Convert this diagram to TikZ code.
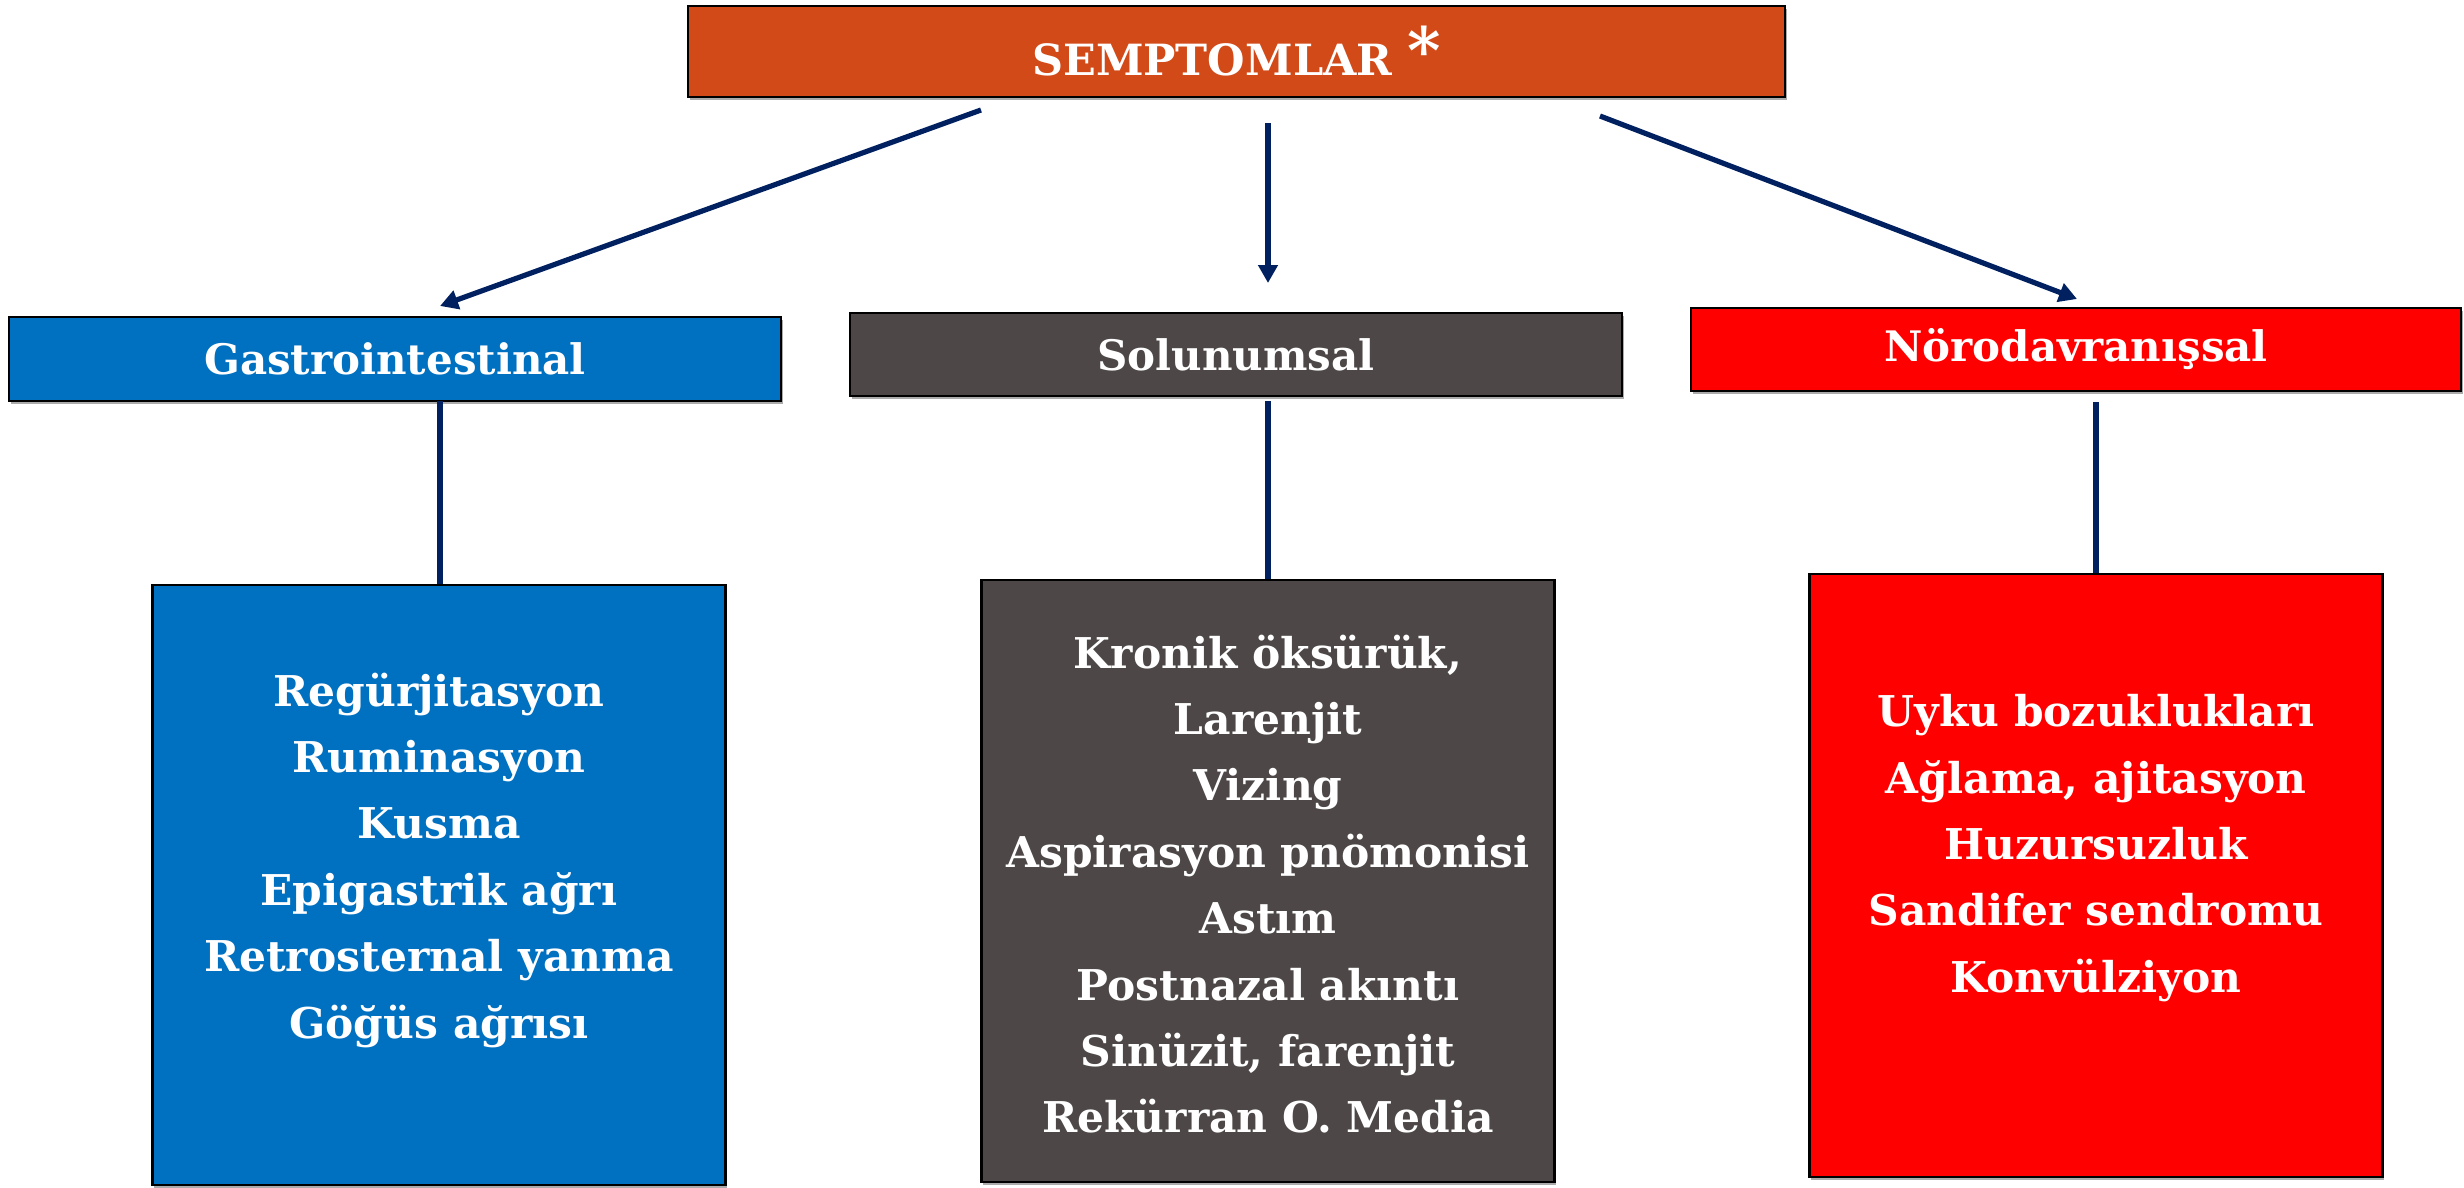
\documentclass[tikz,border=0pt]{standalone}
\usepackage{fontspec}
\setmainfont{DejaVu Serif}
\usetikzlibrary{arrows.meta,shadows}
\definecolor{titlecol}{HTML}{D14A17}
\definecolor{gicol}{HTML}{0070C0}
\definecolor{solcol}{HTML}{4D4747}
\definecolor{nrcol}{HTML}{FF0000}
\definecolor{arrcol}{HTML}{002060}
\tikzset{
  boxbase/.style={draw=black, line width=1.3pt, inner sep=0pt,
    drop shadow={shadow xshift=0.8pt, shadow yshift=-1.5pt, fill=black!55, opacity=0.6}},
  headbox/.style={boxbase, minimum width=386pt, minimum height=42pt,
    text=white, font=\fontsize{21}{24}\selectfont\bfseries},
  contentbox/.style={boxbase, minimum width=286.5pt, minimum height=301pt},
  listtext/.style={text=white, align=center, inner sep=0pt,
    font=\fontsize{21.2}{33.2}\selectfont\bfseries},
  arr/.style={draw=arrcol, line width=2.6pt, -{Triangle[length=9pt,width=9.5pt]}},
  conn/.style={draw=arrcol, line width=2.6pt}
}
\begin{document}
\begin{tikzpicture}[x=0.5pt,y=-0.5pt]
\useasboundingbox (0,0) rectangle (2464,1188);
% title
\node[boxbase, fill=titlecol, minimum width=548.5pt, minimum height=45.5pt,
  text=white, font=\fontsize{21.5}{26}\selectfont\bfseries] (title) at (1236.5,51.5)
  {SEMPTOMLAR \raisebox{1pt}{\fontsize{32}{32}\selectfont *}};
% headers
\node[headbox, fill=gicol] (gih) at (395,359) {Gastrointestinal};
\node[headbox, fill=solcol, minimum height=41.5pt] (soh) at (1236,354.5) {Solunumsal};
\node[headbox, fill=nrcol, minimum width=385pt, minimum height=41.5pt] (nrh) at (2076,349.5) {Nörodavranışsal};
% content boxes
\node[contentbox, fill=gicol, minimum height=300pt] (gic) at (439,885) {};
\node[contentbox, fill=solcol] (soc) at (1268,881) {};
\node[contentbox, fill=nrcol, minimum height=301.5pt] (nrc) at (2096,875.5) {};
% texts
\node[listtext] (git) at (439,860) {Regürjitasyon\\Ruminasyon\\Kusma\\Epigastrik ağrı\\Retrosternal yanma\\Göğüs ağrısı};
\node[listtext] (sot) at (1268,884) {Kronik öksürük,\\Larenjit\\Vizing\\Aspirasyon pnömonisi\\Astım\\Postnazal akıntı\\Sinüzit, farenjit\\Rekürran O. Media};
\node[listtext] (nrt) at (2096,848) {Uyku bozuklukları\\Ağlama, ajitasyon\\Huzursuzluk\\Sandifer sendromu\\Konvülziyon};
% arrow end points
\coordinate (a1s) at (981,110);
\coordinate (a1e) at (440,306);
\coordinate (a2s) at (1268,123);
\coordinate (a2e) at (1268,283);
\coordinate (a3s) at (1600,116);
\coordinate (a3e) at (2077,299);
\draw[arr] (a1s) -- (a1e);
\draw[arr] (a2s) -- (a2e);
\draw[arr] (a3s) -- (a3e);
% vertical connectors
\coordinate (giv) at (440,401);
\coordinate (sov) at (1268,401);
\coordinate (nrv) at (2096,402);
\draw[conn] (giv) -- (gic.north -| giv);
\draw[conn] (sov) -- (soc.north);
\draw[conn] (nrv) -- (nrc.north);
\end{tikzpicture}
\end{document}
